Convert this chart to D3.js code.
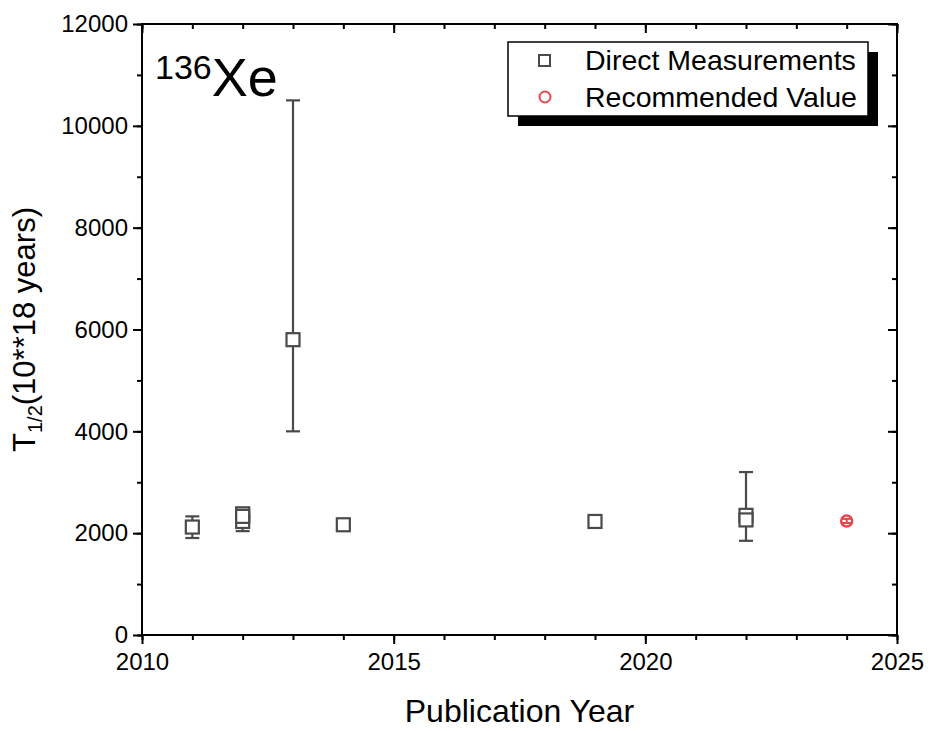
<!DOCTYPE html>
<html><head><meta charset="utf-8">
<script src="https://cdn.jsdelivr.net/npm/d3@7/dist/d3.min.js"></script>
<style>body{margin:0;background:#fff;} text{font-family:"Liberation Sans",Arial,sans-serif;}</style>
</head><body>
<svg id="c" width="931" height="731"></svg>
<script>
// Data
const directYears = [2011, 2012, 2012, 2012, 2013, 2014, 2019, 2022, 2022];
const directValues = [2120, 2380, 2230, 2330, 5800, 2165, 2230, 2350, 2260];
const directErrLow = [1905, 2320, 2040, 2280, 4000, 2110, 2180, 1850, 2200];
const directErrHigh = [2330, 2450, 2430, 2390, 10500, 2220, 2280, 3200, 2320];
const recYears = [2024];
const recValues = [2240];
const recErrLow = [2200];
const recErrHigh = [2280];
const xTicks = [2010, 2015, 2020, 2025];
const yTicks = [0, 2000, 4000, 6000, 8000, 10000, 12000];

const svg = d3.select("#c");
const L = 142, R = 897, T = 24, B = 635;
const x = d3.scaleLinear().domain([2010, 2025]).range([L, R]);
const y = d3.scaleLinear().domain([0, 12000]).range([B, T]);

const xMinor = d3.range(2010, 2026, 1);
const yMinor = d3.range(0, 12001, 1000);
const TF = 24;

function axis(gen, tx, ty, vals, size, pad, fmt) {
  const g = svg.append("g").attr("transform", `translate(${tx},${ty})`)
    .call(gen.tickValues(vals).tickSize(size).tickPadding(pad).tickFormat(fmt));
  g.select(".domain").remove();
  g.attr("font-size", TF).attr("font-family", '"Liberation Sans",Arial,sans-serif');
  g.selectAll("line").attr("stroke", "#000").attr("stroke-width", 2);
  g.selectAll("text").attr("fill", "#000").attr("font-size", TF);
  return g;
}
axis(d3.axisBottom(x), 0, B, xMinor, 5, 6, () => "");
axis(d3.axisBottom(x), 0, B, xTicks, 9, 9, d3.format("d"));
axis(d3.axisLeft(y), L, 0, yMinor, 5, 6, () => "");
axis(d3.axisLeft(y), L, 0, yTicks, 9, 5, d3.format("d"));
axis(d3.axisTop(x), 0, T, xMinor, -5, 0, () => "");
axis(d3.axisTop(x), 0, T, xTicks, -9, 0, () => "");
axis(d3.axisRight(y), R, 0, yMinor, -5, 0, () => "");
axis(d3.axisRight(y), R, 0, yTicks, -9, 0, () => "");

// frame
svg.append("rect").attr("x", L).attr("y", T).attr("width", R - L).attr("height", B - T)
  .attr("fill", "none").attr("stroke", "#000").attr("stroke-width", 2);

// error bars - direct
const eCol = "#4a4a4a";
const gE = svg.append("g");
directYears.forEach((yr, i) => {
  const cx = x(yr);
  gE.append("line").attr("x1", cx).attr("x2", cx).attr("y1", y(directErrLow[i])).attr("y2", y(directErrHigh[i]))
    .attr("stroke", eCol).attr("stroke-width", 2.2);
  [directErrLow[i], directErrHigh[i]].forEach(v => {
    gE.append("line").attr("x1", cx - 7).attr("x2", cx + 7).attr("y1", y(v)).attr("y2", y(v))
      .attr("stroke", eCol).attr("stroke-width", 2.2);
  });
});
directYears.forEach((yr, i) => {
  gE.append("rect").attr("x", x(yr) - 6.5).attr("y", y(directValues[i]) - 6.5).attr("width", 13).attr("height", 13)
    .attr("fill", "#fff").attr("stroke", eCol).attr("stroke-width", 2.2);
});
// recommended
const rCol = "#e8474c";
recYears.forEach((yr, i) => {
  const cx = x(yr);
  gE.append("circle").attr("cx", cx).attr("cy", y(recValues[i])).attr("r", 5.5)
    .attr("fill", "#fff").attr("stroke", rCol).attr("stroke-width", 2.5);
  gE.append("line").attr("x1", cx).attr("x2", cx).attr("y1", y(recErrLow[i])).attr("y2", y(recErrHigh[i]))
    .attr("stroke", rCol).attr("stroke-width", 2);
  [recErrLow[i], recErrHigh[i]].forEach(v => {
    gE.append("line").attr("x1", cx - 5).attr("x2", cx + 5).attr("y1", y(v)).attr("y2", y(v))
      .attr("stroke", rCol).attr("stroke-width", 2);
  });
});

// title 136Xe
const tt = svg.append("text").attr("x", 155).attr("y", 96).attr("fill", "#000");
tt.append("tspan").attr("font-size", 34).attr("dy", -17).text("136");
tt.append("tspan").attr("font-size", 54).attr("dy", 17).text("Xe");

// legend
const lx = 508, ly = 42, lw = 360, lh = 74;
svg.append("rect").attr("x", lx + 10).attr("y", ly + 10).attr("width", lw).attr("height", lh).attr("fill", "#000");
svg.append("rect").attr("x", lx).attr("y", ly).attr("width", lw).attr("height", lh)
  .attr("fill", "#fff").attr("stroke", "#000").attr("stroke-width", 1.5);
svg.append("rect").attr("x", 539).attr("y", 55).attr("width", 11).attr("height", 11)
  .attr("fill", "#fff").attr("stroke", eCol).attr("stroke-width", 2);
svg.append("circle").attr("cx", 545).attr("cy", 97).attr("r", 5.5)
  .attr("fill", "#fff").attr("stroke", rCol).attr("stroke-width", 2);
svg.append("text").attr("x", 585).attr("y", 70).attr("font-size", 28.5).text("Direct Measurements");
svg.append("text").attr("x", 585).attr("y", 107).attr("font-size", 28.5).text("Recommended Value");

// axis titles
svg.append("text").attr("x", (L + R) / 2).attr("y", 722).attr("text-anchor", "middle")
  .attr("font-size", 32).text("Publication Year");
const yl = svg.append("text").attr("transform", `translate(35,${(T + B) / 2}) rotate(-90)`)
  .attr("text-anchor", "middle").attr("font-size", 31);
yl.append("tspan").text("T");
yl.append("tspan").attr("font-size", 20).attr("dy", 7).text("1/2");
yl.append("tspan").attr("dy", -7).text("(10**18 years)");
</script>
</body></html>
